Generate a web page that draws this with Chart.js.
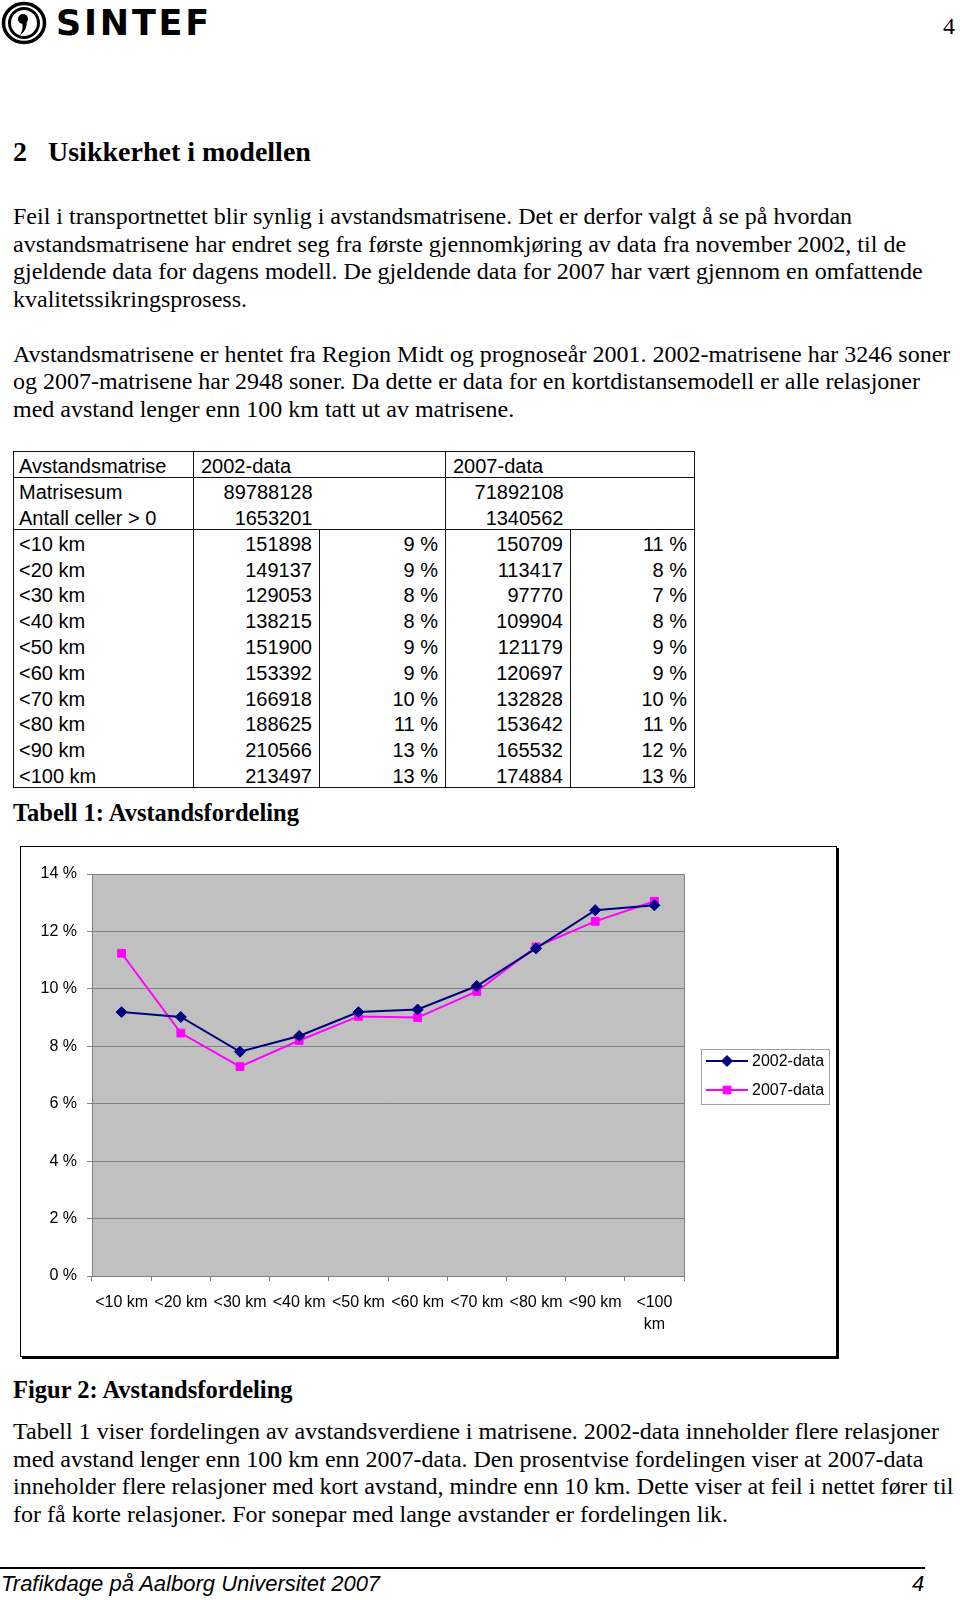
<!DOCTYPE html>
<html><head><meta charset="utf-8">
<script src="https://cdn.jsdelivr.net/npm/chart.js@4/dist/chart.umd.min.js"></script>
<style>
html,body{margin:0;padding:0;background:#fff;}
body{width:960px;height:1600px;position:relative;overflow:hidden;font-family:"Liberation Serif","Times New Roman",serif;color:#000;}
.ln{position:absolute;left:13px;white-space:nowrap;font-size:24px;height:28px;line-height:28px;}
.cap{position:absolute;left:13px;white-space:nowrap;font-size:24.5px;font-weight:bold;height:28px;line-height:28px;}
#tbl{position:absolute;left:13px;top:451px;border-collapse:collapse;table-layout:fixed;font-family:"Liberation Sans",Arial,sans-serif;font-size:20px;border:1px solid #111;}
#tbl td{padding:4px 7px 0 7px;white-space:nowrap;line-height:21px;}
#tbl td:first-child{padding-left:5px;}
#tbl td.r{text-align:right;}
#tbl td.bl{border-left:1px solid #111;}
#tbl tr.bb td{border-bottom:1px solid #111;}
#frame{position:absolute;left:20px;top:846px;width:815px;height:509px;border:1px solid #000;box-shadow:2px 2px 0 #000;background:#fff;}
#chart{position:absolute;left:0;top:0;}
</style></head>
<body>
<svg style="position:absolute;left:1px;top:1px" width="48" height="44" viewBox="0 0 48 44">
  <ellipse cx="23" cy="22" rx="20.5" ry="19.5" fill="none" stroke="#000" stroke-width="3.5"/>
  <ellipse cx="23" cy="22" rx="14.5" ry="14.5" fill="none" stroke="#000" stroke-width="3"/>
  <circle cx="22" cy="18" r="5" fill="#000"/>
  <path d="M25 19 C27 25 24 31 19 34 C22 29 22 25 21 22 Z" fill="#000"/>
</svg>
<div style="position:absolute;left:56px;top:4px;font-family:'DejaVu Sans',sans-serif;font-weight:bold;font-size:35px;line-height:38px;letter-spacing:2.8px;">SINTEF</div>
<div style="position:absolute;left:943px;top:11px;font-size:24px;line-height:30px;">4</div>

<div style="position:absolute;left:13px;top:136px;font-size:28px;font-weight:bold;line-height:32px;white-space:nowrap;">2<span style="display:inline-block;width:21px"></span>Usikkerhet i modellen</div>

<div class="ln" style="top:202px">Feil i transportnettet blir synlig i avstandsmatrisene. Det er derfor valgt å se på hvordan</div>
<div class="ln" style="top:230px">avstandsmatrisene har endret seg fra første gjennomkjøring av data fra november 2002, til de</div>
<div class="ln" style="top:257px">gjeldende data for dagens modell. De gjeldende data for 2007 har vært gjennom en omfattende</div>
<div class="ln" style="top:285px">kvalitetssikringsprosess.</div>

<div class="ln" style="top:340px">Avstandsmatrisene er hentet fra Region Midt og prognoseår 2001. 2002-matrisene har 3246 soner</div>
<div class="ln" style="top:367px">og 2007-matrisene har 2948 soner. Da dette er data for en kortdistansemodell er alle relasjoner</div>
<div class="ln" style="top:395px">med avstand lenger enn 100 km tatt ut av matrisene.</div>

<table id="tbl">
<colgroup><col style="width:180px"><col style="width:126px"><col style="width:126px"><col style="width:125px"><col style="width:124px"></colgroup>
<tbody id="tb"></tbody>
</table>

<div class="cap" style="top:799px">Tabell 1: Avstandsfordeling</div>

<div id="frame"><canvas id="chart" width="815" height="509"></canvas></div>

<div class="cap" style="top:1376px">Figur 2: Avstandsfordeling</div>

<div class="ln" style="top:1417px">Tabell 1 viser fordelingen av avstandsverdiene i matrisene. 2002-data inneholder flere relasjoner</div>
<div class="ln" style="top:1445px">med avstand lenger enn 100 km enn 2007-data. Den prosentvise fordelingen viser at 2007-data</div>
<div class="ln" style="top:1472px">inneholder flere relasjoner med kort avstand, mindre enn 10 km. Dette viser at feil i nettet fører til</div>
<div class="ln" style="top:1500px">for få korte relasjoner. For sonepar med lange avstander er fordelingen lik.</div>

<div style="position:absolute;left:0;top:1567px;width:925px;height:2px;background:#000;"></div>
<div style="position:absolute;left:1px;top:1571px;font-family:'Liberation Sans',Arial,sans-serif;font-style:italic;font-size:22px;line-height:26px;white-space:nowrap;">Trafikdage på Aalborg Universitet 2007</div>
<div style="position:absolute;left:912px;top:1571px;font-family:'Liberation Sans',Arial,sans-serif;font-style:italic;font-size:22px;line-height:26px;">4</div>

<script>
// ---- data ----
const categories = ['<10 km', '<20 km', '<30 km', '<40 km', '<50 km', '<60 km', '<70 km', '<80 km', '<90 km', '<100 km'];
const xTickLabels = ['<10 km', '<20 km', '<30 km', '<40 km', '<50 km', '<60 km', '<70 km', '<80 km', '<90 km', ['<100', 'km']];
const share2002 = [9.19, 9.02, 7.81, 8.36, 9.19, 9.28, 10.10, 11.41, 12.74, 12.91];
const share2007 = [11.24, 8.46, 7.29, 8.20, 9.04, 9.00, 9.91, 11.46, 12.35, 13.05];
const seriesNames = ['2002-data', '2007-data'];
const yTickValues = [0, 2, 4, 6, 8, 10, 12, 14];

// table data
const tableHeader = ['Avstandsmatrise', '2002-data', '2007-data'];
const matrixSum = ['Matrisesum', '89788128', '71892108'];
const cellsAboveZero = ['Antall celler > 0', '1653201', '1340562'];
const count2002 = [151898, 149137, 129053, 138215, 151900, 153392, 166918, 188625, 210566, 213497];
const pct2002 = ['9 %', '9 %', '8 %', '8 %', '9 %', '9 %', '10 %', '11 %', '13 %', '13 %'];
const count2007 = [150709, 113417, 97770, 109904, 121179, 120697, 132828, 153642, 165532, 174884];
const pct2007 = ['11 %', '8 %', '7 %', '8 %', '9 %', '9 %', '10 %', '11 %', '12 %', '13 %'];

// ---- table ----
const tb = document.getElementById('tb');
function row(cells, cls, h) {
  const tr = document.createElement('tr');
  if (cls) tr.className = cls;
  tr.style.height = h + 'px';
  cells.forEach(c => {
    const td = document.createElement('td');
    td.textContent = c.t;
    td.className = c.c || '';
    tr.appendChild(td);
  });
  tb.appendChild(tr);
}
row([{t: tableHeader[0]}, {t: tableHeader[1], c: 'bl'}, {t: ''}, {t: tableHeader[2], c: 'bl'}, {t: ''}], 'bb', 25.5);
row([{t: matrixSum[0]}, {t: matrixSum[1], c: 'bl r'}, {t: ''}, {t: matrixSum[2], c: 'bl r'}, {t: ''}], '', 25.5);
row([{t: cellsAboveZero[0]}, {t: cellsAboveZero[1], c: 'bl r'}, {t: ''}, {t: cellsAboveZero[2], c: 'bl r'}, {t: ''}], 'bb', 26.5);
categories.forEach((k, i) => {
  row([{t: k}, {t: String(count2002[i]), c: 'bl r'}, {t: pct2002[i], c: 'bl r'}, {t: String(count2007[i]), c: 'bl r'}, {t: pct2007[i], c: 'bl r'}], '', 25.8);
});

// ---- chart ----
const FONT = "'Liberation Sans', Arial, sans-serif";
const plotBg = {
  id: 'plotBg',
  beforeDraw(chart) {
    const {ctx, chartArea: a} = chart;
    ctx.save();
    ctx.fillStyle = '#C0C0C0';
    ctx.fillRect(a.left, a.top, a.right - a.left, a.bottom - a.top);
    ctx.strokeStyle = '#808080';
    ctx.lineWidth = 1;
    ctx.strokeRect(a.left + 0.5, a.top + 0.5, a.right - a.left, a.bottom - a.top);
    ctx.restore();
  }
};
const boxLegend = {
  id: 'boxLegend',
  afterDraw(chart) {
    const ctx = chart.ctx;
    const x0 = 680, y0 = 202, w = 128, h = 55;
    ctx.save();
    ctx.fillStyle = '#fff';
    ctx.fillRect(x0, y0, w, h);
    ctx.strokeStyle = '#A0A0A0';
    ctx.lineWidth = 1;
    ctx.strokeRect(x0 + 0.5, y0 + 0.5, w, h);
    chart.data.datasets.forEach((ds, i) => {
      const y = y0 + 12 + i * 29;
      ctx.strokeStyle = ds.borderColor;
      ctx.lineWidth = ds.borderWidth;
      ctx.beginPath();
      ctx.moveTo(x0 + 5, y);
      ctx.lineTo(x0 + 47, y);
      ctx.stroke();
      ctx.fillStyle = ds.backgroundColor;
      ctx.strokeStyle = ds.borderColor;
      ctx.lineWidth = 1;
      Chart.helpers.drawPoint(ctx, {pointStyle: ds.pointStyle, radius: ds.pointRadius, borderWidth: 1, rotation: 0}, x0 + 26, y);
      ctx.fillStyle = '#000';
      ctx.font = '16px ' + FONT;
      ctx.textAlign = 'left';
      ctx.textBaseline = 'middle';
      ctx.fillText(ds.label, x0 + 51, y + 1);
    });
    ctx.restore();
  }
};

new Chart(document.getElementById('chart'), {
  type: 'line',
  data: {
    labels: xTickLabels,
    datasets: [
      {label: seriesNames[0], data: share2002, borderColor: '#000080', backgroundColor: '#000080',
       borderWidth: 2, pointStyle: 'rectRot', pointRadius: 5.5, pointBorderWidth: 1, tension: 0},
      {label: seriesNames[1], data: share2007, borderColor: '#FF00FF', backgroundColor: '#FF00FF',
       borderWidth: 2, pointStyle: 'rect', pointRadius: 5.5, pointBorderWidth: 1, tension: 0}
    ]
  },
  options: {
    responsive: false,
    animation: false,
    layout: {padding: {left: 0, top: 27, right: 152, bottom: 0}},
    plugins: {legend: {display: false}, tooltip: {enabled: false}},
    scales: {
      x: {
        type: 'category',
        offset: true,
        grid: {offset: true, drawOnChartArea: false, drawTicks: true, tickLength: 5, color: '#808080'},
        border: {display: true, color: '#808080'},
        ticks: {color: '#000', font: {family: FONT, size: 16, lineHeight: 1.35}, padding: 11, maxRotation: 0, autoSkip: false},
        afterFit(s) { s.height = 80; }
      },
      y: {
        min: 0, max: 14,
        afterBuildTicks(s) { s.ticks = yTickValues.map(v => ({value: v})); },
        grid: {color: '#808080', lineWidth: 1, drawTicks: true, tickLength: 5},
        border: {display: true, color: '#808080'},
        ticks: {color: '#000', font: {family: FONT, size: 16}, padding: 10, callback: v => v + ' %'},
        afterFit(s) { s.width = 71; }
      }
    }
  },
  plugins: [plotBg, boxLegend]
});
</script>
</body></html>
